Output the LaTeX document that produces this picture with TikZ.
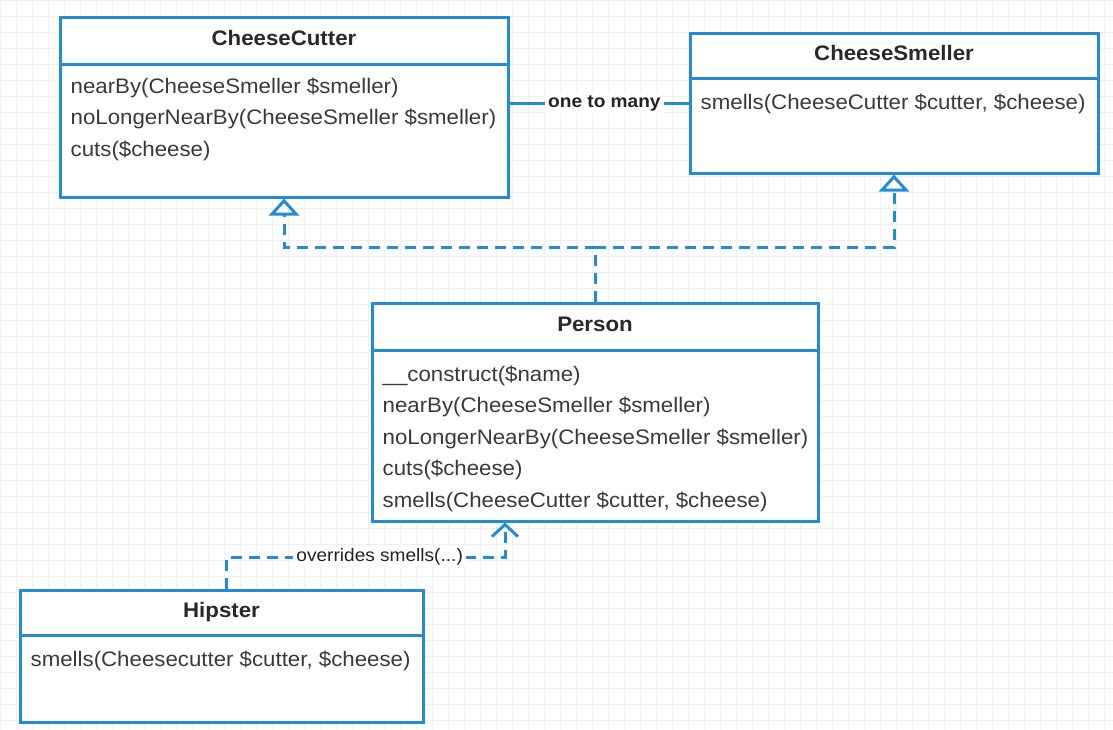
\documentclass[tikz,border=0pt]{standalone}
\usepackage{fontspec}
\setmainfont[FakeStretch=1.06]{Liberation Sans}
\usetikzlibrary{arrows.meta}

\definecolor{umlblue}{RGB}{36,139,213}
\definecolor{umltext}{RGB}{58,58,58}

\tikzset{
  classbox/.style={draw=umlblue, line width=3pt, fill=white, inner sep=0pt},
  classname/.style={font=\fontsize{21}{25}\selectfont\bfseries, text=umltext!70!black,
    text height=15pt, text depth=4pt, inner sep=0pt},
  classops/.style={font=\fontsize{21}{31.5}\selectfont, text=umltext, align=left,
    anchor=north west, inner xsep=12pt, inner ysep=0pt},
  divider/.style={draw=umlblue, line width=3pt},
  realize/.style={draw=umlblue, line width=3pt, dash pattern=on 11pt off 7pt,
    -{Triangle[open, width=30pt, length=17pt]}},
  overrides/.style={draw=umlblue, line width=3pt, dash pattern=on 11pt off 7pt,
    -{Straight Barb[width=26pt, length=12pt]}},
  assoc/.style={draw=umlblue, line width=3pt},
  linklabel/.style={font=\fontsize{18}{20}\selectfont, text=umltext!60!black, fill=white,
    inner xsep=3pt, inner ysep=2pt}
}

\begin{document}
\begin{tikzpicture}[x=1pt,y=-1pt]
  % Page and drawing grid.
  \fill[white] (0,0) rectangle (1113,729);
  \useasboundingbox (0,0) rectangle (1113,729);
  \draw[step=16pt, black!6, line width=.6pt] (0,0) grid (1113,729);

  % CheeseCutter class.
  \node[classbox, minimum width=448, minimum height=180] (cutter) at (284,107) {};
  \draw[divider] ([yshift=-49pt]cutter.north west) -- ([yshift=-49pt]cutter.north east);
  \node[classname] (cutterName) at ([yshift=-24pt]cutter.north) {CheeseCutter};
  \node[classops] (cutterOps) at ([yshift=-62pt]cutter.north west)
    {nearBy(CheeseSmeller \$smeller)\\noLongerNearBy(CheeseSmeller \$smeller)\\cuts(\$cheese)};

  % CheeseSmeller class.
  \node[classbox, minimum width=408, minimum height=140] (smeller) at (894,103) {};
  \draw[divider] ([yshift=-47pt]smeller.north west) -- ([yshift=-47pt]smeller.north east);
  \node[classname] (smellerName) at ([yshift=-23pt]smeller.north) {CheeseSmeller};
  \node[classops] (smellerOps) at ([yshift=-62pt]smeller.north west)
    {smells(CheeseCutter \$cutter, \$cheese)};

  % Person class.
  \node[classbox, minimum width=446, minimum height=218] (person) at (595,412) {};
  \draw[divider] ([yshift=-49pt]person.north west) -- ([yshift=-49pt]person.north east);
  \node[classname] (personName) at ([yshift=-24pt]person.north) {Person};
  \node[classops] (personOps) at ([yshift=-64pt]person.north west)
    {\_\_construct(\$name)\\nearBy(CheeseSmeller \$smeller)\\noLongerNearBy(CheeseSmeller \$smeller)\\cuts(\$cheese)\\smells(CheeseCutter \$cutter, \$cheese)};

  % Hipster class.
  \node[classbox, minimum width=403, minimum height=132] (hipster) at (221.5,656) {};
  \draw[divider] ([yshift=-47pt]hipster.north west) -- ([yshift=-47pt]hipster.north east);
  \node[classname] (hipsterName) at ([yshift=-23pt]hipster.north) {Hipster};
  \node[classops] (hipsterOps) at ([yshift=-62pt]hipster.north west)
    {smells(Cheesecutter \$cutter, \$cheese)};

  % Association between cutter and smeller.
  \draw[assoc] (smeller.west -| cutter.east) -- node[linklabel, pos=.53, font=\fontsize{18}{20}\selectfont\bfseries] (assocLabel) {one to many} (smeller.west);

  % Person realizes both interfaces.
  \coordinate (fork) at (595,247);
  \draw[realize] (person.north) -- (fork) -| (cutter.south);
  \draw[realize] (fork) -| (smeller.south);

  % Hipster extends Person.
  \coordinate (hook) at (505,557);
  \draw[overrides] ([xshift=5pt]hipster.north) |- node[linklabel, pos=.775] (overLabel) {overrides smells(...)} (hook) -- (hook |- person.south);
\end{tikzpicture}
\end{document}
